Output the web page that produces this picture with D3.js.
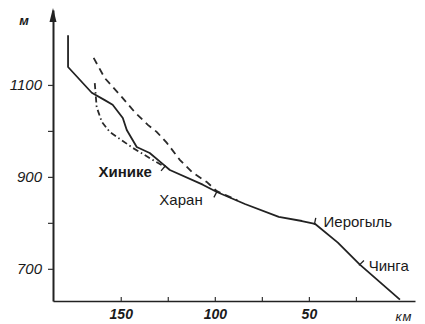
<!DOCTYPE html>
<html>
<head>
<meta charset="utf-8">
<script src="https://cdn.jsdelivr.net/npm/d3@7"></script>
<style>
  body { margin: 0; background: #fff; }
  svg { display: block; }
  text { font-family: "Liberation Sans", Arial, sans-serif; fill: #1a1a1a; }
  .axis text { font-style: italic; font-weight: bold; }
</style>
</head>
<body>
<div id="chart"></div>
<script>
// main river profile: distance to mouth (km), elevation (m)
var mainKm   = [178, 178, 165.4, 158.5, 154.3, 148.9, 146.8, 141.5, 134.6, 128.2, 123.9, 106.4, 98.9, 84, 66, 53.7, 46.8, 34.6, 22.9, 1.6];
var mainElev = [1208, 1139, 1083, 1067, 1057, 1028, 1002, 965, 952, 930, 915, 883, 867, 841, 813, 804, 798, 757, 709, 633];

// tributary (dashed)
var dashKm   = [164.4, 158.5, 149.5, 142.6, 135.6, 130.9, 125.5, 118.6, 111.7, 104.3, 98.9, 88];
var dashElev = [1159, 1115, 1074, 1041, 1013, 998, 974, 937, 909, 889, 869, 849];

// tributary (dash-dot)
var dotKm    = [163.8, 162.8, 160.1, 155.9, 143.6, 133, 126.6];
var dotElev  = [1104, 1052, 1020, 998, 963, 937, 922];

// named points along the river
var placeNames = ["Хинике", "Харан", "Иерогыль", "Чинга"];
var placeKm    = [126.5, 99, 47, 23];
var placeElev  = [923, 867, 798, 709];

var xTicks = [150, 125, 100, 75, 50, 25];
var xLabels = [150, 100, 50];
var yTicks = [700, 800, 900, 1000, 1100];
var yLabels = [700, 900, 1100];

// plot box
var box = {left: 53, right: 415, top: 10, bottom: 301},
    width = 425, height = 324;

var x = d3.scaleLinear().domain([186, -6.4]).range([box.left, box.right]);
var y = d3.scaleLinear().domain([630, 1263]).range([box.bottom, box.top]);

var svg = d3.select("#chart").append("svg")
    .attr("width", width)
    .attr("height", height);

// x axis
var xAxis = svg.append("g")
    .attr("class", "axis")
    .attr("transform", "translate(0," + box.bottom + ")")
    .call(d3.axisBottom(x)
      .tickValues(xTicks)
      .tickSize(-4)
      .tickSizeOuter(0)
      .tickPadding(8)
      .tickFormat(function(d) { return xLabels.indexOf(d) >= 0 ? d : ""; }));
xAxis.selectAll("text").style("font-size", "14px");
xAxis.select(".domain").attr("stroke", "#222").attr("stroke-width", 1.6);
xAxis.selectAll(".tick line").attr("stroke", "#333").attr("stroke-width", 1.2);

svg.append("text")
    .attr("x", 404).attr("y", 321)
    .attr("text-anchor", "middle")
    .style("font-style", "italic")
    .style("font-size", "13px")
    .style("letter-spacing", "1px")
    .text("км");

// y axis
var yAxis = svg.append("g")
    .attr("class", "axis")
    .attr("transform", "translate(" + box.left + ",0)")
    .call(d3.axisLeft(y)
      .tickValues(yTicks)
      .tickSize(5)
      .tickSizeOuter(0)
      .tickPadding(6)
      .tickFormat(function(d) { return yLabels.indexOf(d) >= 0 ? d : ""; }));
yAxis.selectAll("text").style("font-size", "15px").style("font-weight", "normal");
yAxis.select(".domain").attr("stroke", "#222").attr("stroke-width", 2);
yAxis.selectAll(".tick line").attr("stroke", "#333").attr("stroke-width", 1.2);

// arrow on the y axis
svg.append("path")
    .attr("d", "M" + box.left + "," + (box.top - 2) + "L" + (box.left - 3.5) + "," + (box.top + 12) + "L" + (box.left + 3.5) + "," + (box.top + 12) + "Z")
    .attr("fill", "#222");

svg.append("text")
    .attr("x", 24).attr("y", 25)
    .attr("text-anchor", "middle")
    .style("font-weight", "bold")
    .style("font-style", "italic")
    .style("font-size", "13px")
    .text("м");

var line = d3.line()
    .x(function(d) { return x(d[0]); })
    .y(function(d) { return y(d[1]); });

function pairs(a, b) { return a.map(function(v, i) { return [v, b[i]]; }); }

svg.append("path")
    .datum(pairs(dashKm, dashElev))
    .attr("d", line)
    .attr("fill", "none")
    .attr("stroke", "#2a2a2a")
    .attr("stroke-width", 1.8)
    .attr("stroke-dasharray", "7,5");

svg.append("path")
    .datum(pairs(dotKm, dotElev))
    .attr("d", line)
    .attr("fill", "none")
    .attr("stroke", "#2a2a2a")
    .attr("stroke-width", 1.8)
    .attr("stroke-dasharray", "6,3,1.5,3");

var mainPts = pairs(mainKm, mainElev);
svg.append("path")
    .datum(mainPts)
    .attr("d", line)
    .attr("fill", "none")
    .attr("stroke", "#222")
    .attr("stroke-width", 1.8)
    .attr("stroke-linejoin", "round");

// small marks at the named points, perpendicular to the river line
var labelSide = [1, 1, -1, -1];
var labelDx = [-13, -14, 9, 9];
var labelDy = [11, 13, 3, 6];
var labelAnchor = ["end", "end", "start", "start"];
var labelWeight = ["bold", "normal", "normal", "normal"];

placeNames.forEach(function(name, i) {
  var px = x(placeKm[i]), py = y(placeElev[i]);
  // find segment of the main line around this point
  var j = 1;
  while (j < mainKm.length - 1 && mainKm[j] > placeKm[i]) j++;
  var dx = x(mainKm[j]) - x(mainKm[j - 1]), dy = y(mainElev[j]) - y(mainElev[j - 1]);
  var len = Math.sqrt(dx * dx + dy * dy);
  var nx = -dy / len * labelSide[i], ny = dx / len * labelSide[i];
  svg.append("line")
      .attr("x1", px - nx * 1).attr("y1", py - ny * 1)
      .attr("x2", px + nx * 6).attr("y2", py + ny * 6)
      .attr("stroke", "#222")
      .attr("stroke-width", 1.3);
  svg.append("text")
      .attr("x", px + labelDx[i]).attr("y", py + labelDy[i])
      .attr("text-anchor", labelAnchor[i])
      .style("font-size", "15px")
      .style("font-weight", labelWeight[i])
      .text(name);
});
</script>
</body>
</html>
